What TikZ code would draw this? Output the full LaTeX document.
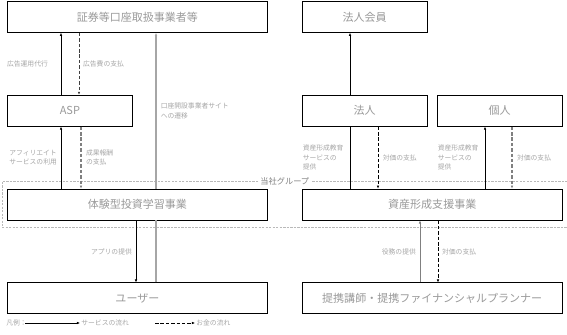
\documentclass[tikz,border=0pt]{standalone}
\usepackage{fontspec}
\setmainfont{Noto Sans CJK JP}
\usetikzlibrary{arrows.meta, positioning, fit}
\definecolor{boxtext}{HTML}{9A9A9A}
\definecolor{notetext}{HTML}{A6A6A6}
\tikzset{
  box/.style={rectangle, draw=black, line width=0.7pt, fill=white, minimum height=9.3mm, inner sep=1pt, text=boxtext, font=\fontsize{9.4pt}{11pt}\selectfont},
  widebox/.style={box, minimum width=78mm},
  smallbox/.style={box, minimum width=37.5mm},
  note/.style={text=notetext, inner sep=1pt, font=\fontsize{5.8pt}{8pt}\selectfont},
  legendtext/.style={note, inner sep=1pt},
  svc/.style={-{Latex[length=2.6pt,width=2.2pt]}, black, line width=0.5pt},
  pay/.style={svc, dash pattern=on 3pt off 1.6pt},
  site/.style={gray!70, line width=1.6pt},
  grp/.style={draw=gray!55, dash pattern=on 2pt off 1pt, line width=0.4pt, inner xsep=1.5mm, inner ysep=2.1mm},
  grptext/.style={fill=white, text=gray, inner sep=1.5pt, font=\fontsize{7pt}{8pt}\selectfont}
}
\begin{document}
\begin{tikzpicture}[x=0.3mm, y=-0.3mm, node distance=18.6mm and 10.2mm]
  \useasboundingbox (0,0) rectangle (567,334);

  % left column
  \node (shoken) [widebox, anchor=north west] at (7,1) {証券等口座取扱事業者等};
  \node (asp) [smallbox, below=of shoken.south west, anchor=north west] {ASP};
  \node (taiken) [widebox, below=of asp.south west, anchor=north west] {体験型投資学習事業};
  \node (user) [widebox, below=of taiken] {ユーザー};

  % right column
  \node (hojinkai) [smallbox, right=of shoken.north east, anchor=north west] {法人会員};
  \node (hojin) [smallbox, below=of hojinkai] {法人};
  \node (kojin) [smallbox, right=2.7mm of hojin] {個人};
  \node (shisan) [widebox, below=of hojin.south west, anchor=north west] {資産形成支援事業};
  \node (teikei) [widebox, below=of shisan] {提携講師・提携ファイナンシャルプランナー};

  % group frame
  \node (group) [grp, fit=(taiken)(shisan)] {};
  \node (grouplabel) [grptext] at (group.north) {当社グループ};

  % left flows
  \draw [svc] (61,0 |- asp.north) -- node[note, left=3.5mm] {広告運用代行} (61,0 |- shoken.south);
  \draw [pay, darkgray] (79,0 |- shoken.south) -- node[note, right=0.8mm] {広告費の支払} (79,0 |- asp.north);
  \draw [site] (156,0 |- user.north) -- (156,0 |- taiken.south);
  \draw [site, -{Latex[length=2.6pt,width=2.2pt]}] (156,0 |- taiken.north) -- node[note, right=0.8mm, align=left] {口座開設事業者サイト\\への遷移} (156,0 |- shoken.south);
  \draw [svc] (61,0 |- taiken.north) -- node[note, left=0.8mm, align=left] {アフィリエイト\\サービスの利用} (61,0 |- asp.south);
  \draw [pay, gray, line width=1pt] (81,0 |- asp.south) -- node[note, right=1mm, align=left] {成果報酬\\の支払} (81,0 |- taiken.north);
  \draw [svc] (136,0 |- taiken.south) -- node[note, left=0.8mm] {アプリの提供} (136,0 |- user.north);

  % right flows
  \draw [svc] (350,0 |- hojin.north) -- (350,0 |- hojinkai.south);
  \draw [svc, -] (350,0 |- shisan.north) -- node[note, left=1.5mm, align=left] {資産形成教育\\サービスの\\提供} (350,0 |- hojin.south);
  \draw [pay] (378,0 |- hojin.south) -- node[note, right=1mm] {対価の支払} (378,0 |- shisan.north);
  \draw [svc] (485,0 |- shisan.north) -- node[note, left=1.5mm, align=left] {資産形成教育\\サービスの\\提供} (485,0 |- kojin.south);
  \draw [pay, gray, line width=1pt] (512,0 |- kojin.south) -- node[note, right=1mm] {対価の支払} (512,0 |- shisan.north);
  \draw [svc, gray] (420,0 |- teikei.north) -- node[note, left=0.8mm] {役務の提供} (420,0 |- shisan.south);
  \draw [pay] (438,0 |- shisan.south) -- node[note, right=0.8mm] {対価の支払} (438,0 |- teikei.north);

  % legend
  \node (legend) [legendtext, anchor=west] at (5,323) {凡例：};
  \coordinate (svcstart) at (25,323);
  \node (svcnote) [legendtext, anchor=west] at (80,323) {サービスの流れ};
  \draw [svc] (svcstart) -- (svcnote.west);
  \coordinate (paystart) at (155,323);
  \node (paynote) [legendtext, anchor=west] at (195,323) {お金の流れ};
  \draw [pay] (paystart) -- (paynote.west);
\end{tikzpicture}
\end{document}
